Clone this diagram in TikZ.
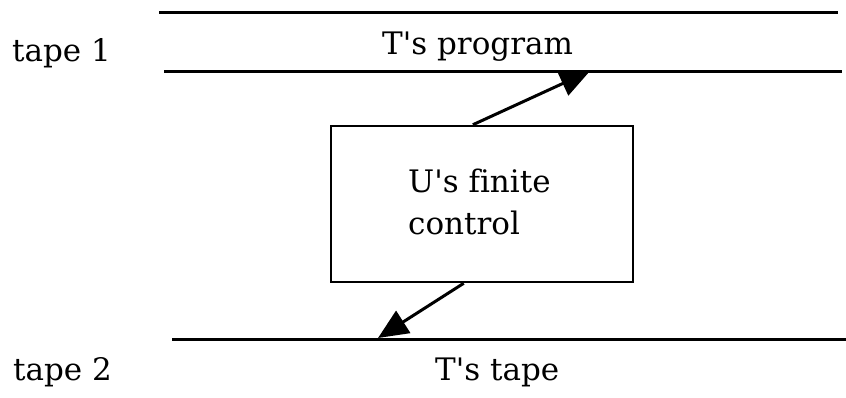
\documentclass[tikz,border=0pt]{standalone}
\usepackage{fontspec}
\setmainfont{DejaVu Serif}[Ligatures=NoCommon]
\usetikzlibrary{arrows.meta,calc}

\begin{document}
\begin{tikzpicture}[x=1pt,y=-1pt,
  tapeline/.style={line width=3pt},
  tapetext/.style={anchor=base west, inner sep=0pt, font=\fontsize{31}{42}\selectfont},
  headline/.style={line width=3pt, -{Triangle[length=30pt,width=26pt]}}]
\useasboundingbox (0,0) rectangle (846,398);
%%% tape 1 with the program of T
\draw[tapeline] (159,13) -- (838,13);
\draw[tapeline] (164,72) -- (842,72);
\node[tapetext] (tapeone) at (12,62) {tape 1};
\node[tapetext] (prog) at (382,55) {T\textquotesingle s program};
%%% tape 2 with the tape of T
\draw[tapeline] (172,339) -- (846,339);
\node[tapetext] (tapetwo) at (13,380) {tape 2};
\node[tapetext] (ttape) at (435,380) {T\textquotesingle s tape};
%%% finite control of U
\node[draw, line width=2.5pt, minimum width=302pt, minimum height=156pt, inner sep=0pt] (ctrl) at (482,204) {};
\node[tapetext, anchor=north west, align=left] (ctrltext) at (408,168.5) {U\textquotesingle s finite\\control};
% heads
\coordinate (progtip) at (590,71);
\coordinate (ttapetip) at (378,338);
\draw[headline] ($(ctrl.north west)!0.47!(ctrl.north east)$) -- (progtip);
\draw[headline] ($(ctrl.south west)!0.44!(ctrl.south east)$) -- (ttapetip);
\end{tikzpicture}
\end{document}
